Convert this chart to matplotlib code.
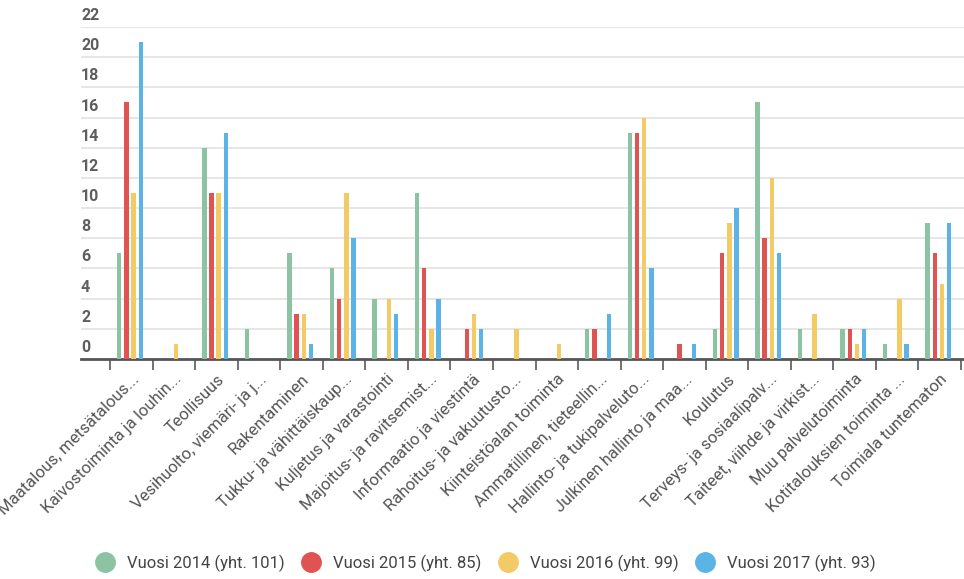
import numpy as np
import matplotlib
matplotlib.use("Agg")
import matplotlib.pyplot as plt
from matplotlib.lines import Line2D
import matplotlib.transforms as mtransforms

plt.rcParams['font.family'] = ['Roboto', 'DejaVu Sans']

categories = [
    "Maatalous, metsätalous...",
    "Kaivostoiminta ja louhin...",
    "Teollisuus",
    "Vesihuolto, viemäri- ja j...",
    "Rakentaminen",
    "Tukku- ja vähittäiskaup...",
    "Kuljetus ja varastointi",
    "Majoitus- ja ravitsemist...",
    "Informaatio ja viestintä",
    "Rahoitus- ja vakuutusto...",
    "Kiinteistöalan toiminta",
    "Ammatillinen, tieteellin...",
    "Hallinto- ja tukipalveluto...",
    "Julkinen hallinto ja maa...",
    "Koulutus",
    "Terveys- ja sosiaalipalv...",
    "Taiteet, viihde ja virkist...",
    "Muu palvelutoiminta",
    "Kotitalouksien toiminta ...",
    "Toimiala tuntematon",
]

v2014 = [7, 0, 14, 2, 7, 6, 4, 11, 0, 0, 0, 2, 15, 0, 2, 17, 2, 2, 1, 9]
v2015 = [17, 0, 11, 0, 3, 4, 0, 6, 2, 0, 0, 2, 15, 1, 7, 8, 0, 2, 0, 7]
v2016 = [11, 1, 11, 0, 3, 11, 4, 2, 3, 2, 1, 0, 16, 0, 9, 12, 3, 1, 4, 5]
v2017 = [21, 0, 15, 0, 1, 8, 3, 4, 2, 0, 0, 3, 6, 1, 10, 7, 0, 2, 1, 9]

series_labels = ["Vuosi 2014 (yht. 101)", "Vuosi 2015 (yht. 85)",
                 "Vuosi 2016 (yht. 99)", "Vuosi 2017 (yht. 93)"]
colors = ["#8cc4a3", "#e05353", "#f2cb66", "#5bb4e5"]

y_ticks = list(range(0, 23, 2))

fig = plt.figure(figsize=(9.64, 5.79), dpi=100)
ax = fig.add_axes([81 / 964, 220 / 579, 883 / 964, 332 / 579])

x = np.arange(len(categories))
pitch = 0.169
width = 0.105
for i, (vals, c) in enumerate(zip([v2014, v2015, v2016, v2017], colors)):
    ax.bar(x + (i - 1.5) * pitch - 0.03, vals, width=width, color=c, zorder=3)

ax.set_ylim(0, 22)
ax.set_xlim(-0.5 - 29 / 42.55, 19.5 + 3 / 42.55)

# gridlines, y labels sit just above them
for t in y_ticks:
    if t > 0:
        ax.axhline(t, color="#e2e2e2", lw=1.2, zorder=1)
trans = mtransforms.offset_copy(ax.get_yaxis_transform(), fig=fig, x=0, y=4, units='dots')
for t in y_ticks:
    ax.text(0, t, str(t), transform=trans, ha='left', va='bottom',
            fontsize=11.5, color="#5e5e5e", fontweight='bold')
ax.set_yticks([])

for s in ['top', 'right', 'left']:
    ax.spines[s].set_visible(False)
ax.spines['bottom'].set_color("#555555")
ax.spines['bottom'].set_linewidth(2)

# ticks on category edges, labels in the middle
ax.set_xticks(np.arange(len(categories) + 1) - 0.5)
ax.set_xticklabels([])
ax.tick_params(axis='x', which='major', length=8, width=1.3, color="#666666")
ax.set_xticks(x, minor=True)
ax.set_xticklabels(categories, minor=True, rotation=45, ha='right', va='top',
                   rotation_mode='anchor', fontsize=12, color="#555555")
ax.tick_params(axis='x', which='minor', length=0, pad=9)

handles = [Line2D([0], [0], marker='o', color='none', markerfacecolor=c,
                  markeredgecolor=c, markersize=14) for c in colors]
fig.legend(handles, series_labels, loc='center', bbox_to_anchor=(0.5, 1 - 563 / 579),
           ncol=4, frameon=False, fontsize=12, handletextpad=0.3,
           columnspacing=0.6, labelcolor="#444444")

fig.savefig("out.png", dpi=100)
